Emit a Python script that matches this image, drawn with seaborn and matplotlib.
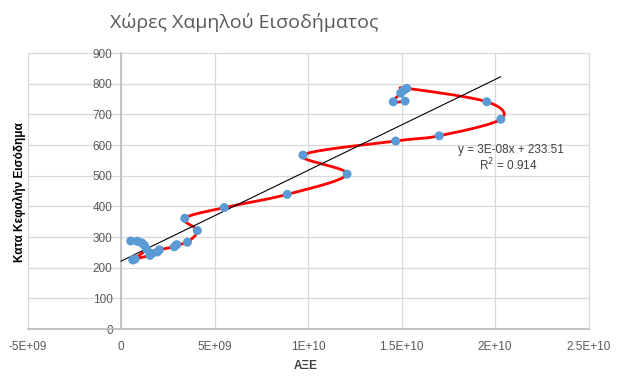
import numpy as np
import pandas as pd
import matplotlib
matplotlib.use('Agg')
import matplotlib.pyplot as plt
import seaborn as sns

sns.set_theme(style='white')
plt.rcParams['font.family'] = ['Liberation Sans', 'DejaVu Sans']

# GNI values (x) and income per capita (y), in the order the line joins them
gni = [0.52e9, 0.87e9, 1.11e9, 1.25e9, 1.37e9, 0.63e9, 0.75e9, 1.55e9, 1.66e9,
       1.94e9, 2.05e9, 2.85e9, 2.98e9, 3.55e9, 4.08e9, 3.41e9, 5.52e9, 8.89e9,
       12.09e9, 9.73e9, 14.69e9, 17.02e9, 20.31e9, 19.56e9, 15.28e9, 15.13e9,
       14.96e9, 14.56e9, 15.19e9]
income = [287, 286, 281, 273, 260, 225, 228, 240, 246,
          251, 258, 268, 275, 283, 321, 361, 396, 439,
          505, 567, 613, 630, 684, 741, 785, 779,
          769, 741, 743]

x_ticks = [-5e9, 0, 5e9, 1e10, 1.5e10, 2e10, 2.5e10]
x_tick_labels = ['-5E+09', '0', '5E+09', '1E+10', '1.5E+10', '2E+10', '2.5E+10']
y_ticks = list(range(0, 1000, 100))

title = 'Χώρες Χαμηλού Εισοδήματος'
x_label = 'ΑΞΕ'
y_label = 'Κατα Κεφαλήν Εισόδημα'
eq_text = 'y = 3E-08x + 233.51'
r2_text = 'R$^2$ = 0.914'

df = pd.DataFrame({'gni': gni, 'income': income})

# smooth line like Excel: Catmull-Rom through points, done in screen-like units
sx, sy = 3e10 / 561, 900 / 276
P = np.column_stack([df['gni'] / sx, df['income'] / sy])
P_ext = np.vstack([P[0], P, P[-1]])
t = np.linspace(0, 1, 30)[:, None]
curve = []
for i in range(len(P) - 1):
    p0, p1, p2, p3 = P_ext[i], P_ext[i + 1], P_ext[i + 2], P_ext[i + 3]
    c1 = p1 + (p2 - p0) / 6
    c2 = p2 - (p3 - p1) / 6
    seg = ((1 - t) ** 3) * p1 + 3 * ((1 - t) ** 2) * t * c1 + 3 * (1 - t) * t ** 2 * c2 + t ** 3 * p2
    curve.append(seg)
curve = np.vstack(curve)
smooth = pd.DataFrame({'gni': curve[:, 0] * sx, 'income': curve[:, 1] * sy, 'k': np.arange(len(curve))})

slope, intercept = np.polyfit(df['gni'], df['income'], 1)
trend = pd.DataFrame({'gni': [0, max(gni)]})
trend['income'] = slope * trend['gni'] + intercept

fig = plt.figure(figsize=(6.35, 3.88), dpi=100)
ax = fig.add_axes([27.5 / 635, 59 / 388, 561 / 635, 276 / 388])

grid_c = '#d9d9d9'
for xv in x_ticks:
    ax.axvline(xv, color=grid_c, lw=0.9, zorder=0, clip_on=False)
for yv in y_ticks:
    ax.axhline(yv, color=grid_c, lw=0.9, zorder=0, clip_on=False)

sns.lineplot(data=smooth, x='gni', y='income', sort=False, estimator=None,
             color='#ff0000', lw=2, ax=ax, zorder=2)
sns.lineplot(data=trend, x='gni', y='income', color='black', lw=0.8, ax=ax, zorder=3)
sns.scatterplot(data=df, x='gni', y='income', color='#5b9bd5', s=42,
                edgecolor='none', ax=ax, zorder=4)

ax.set_xlim(-5e9, 2.5e10)
ax.set_ylim(0, 900)
ax.set_xticks(x_ticks)
ax.set_xticklabels(x_tick_labels)
ax.set_yticks(y_ticks)
for s in ['top', 'right']:
    ax.spines[s].set_visible(False)
ax.spines['left'].set_position(('data', 0))
ax.spines['left'].set_color('#bfbfbf')
ax.spines['bottom'].set_color('#bfbfbf')
ax.tick_params(axis='both', length=0, labelsize=8.5, labelcolor='#595959')
ax.tick_params(axis='x', pad=9)
ax.tick_params(axis='y', pad=6)

ax.set_xlabel('')
ax.set_ylabel('')
fig.text(306 / 635, 1 - 366 / 388, x_label, ha='center', va='center',
         fontsize=8.5, fontweight='bold', color='#404040')
fig.text(19 / 635, 1 - 192 / 388, y_label, ha='center', va='center', rotation=90,
         fontsize=8.5, fontweight='bold', color='black')
fig.text(244 / 635, 1 - 22 / 388, title, ha='center', va='center',
         fontsize=14, color='#595959', family=['Open Sans', 'DejaVu Sans'])

fig.text(458 / 635, 1 - 150 / 388, eq_text, ha='left', va='center', fontsize=8.5, color='#404040')
fig.text(538 / 635, 1 - 165 / 388, r2_text, ha='right', va='center', fontsize=8.5, color='#404040')

fig.savefig('out.png', dpi=100, facecolor='white')
